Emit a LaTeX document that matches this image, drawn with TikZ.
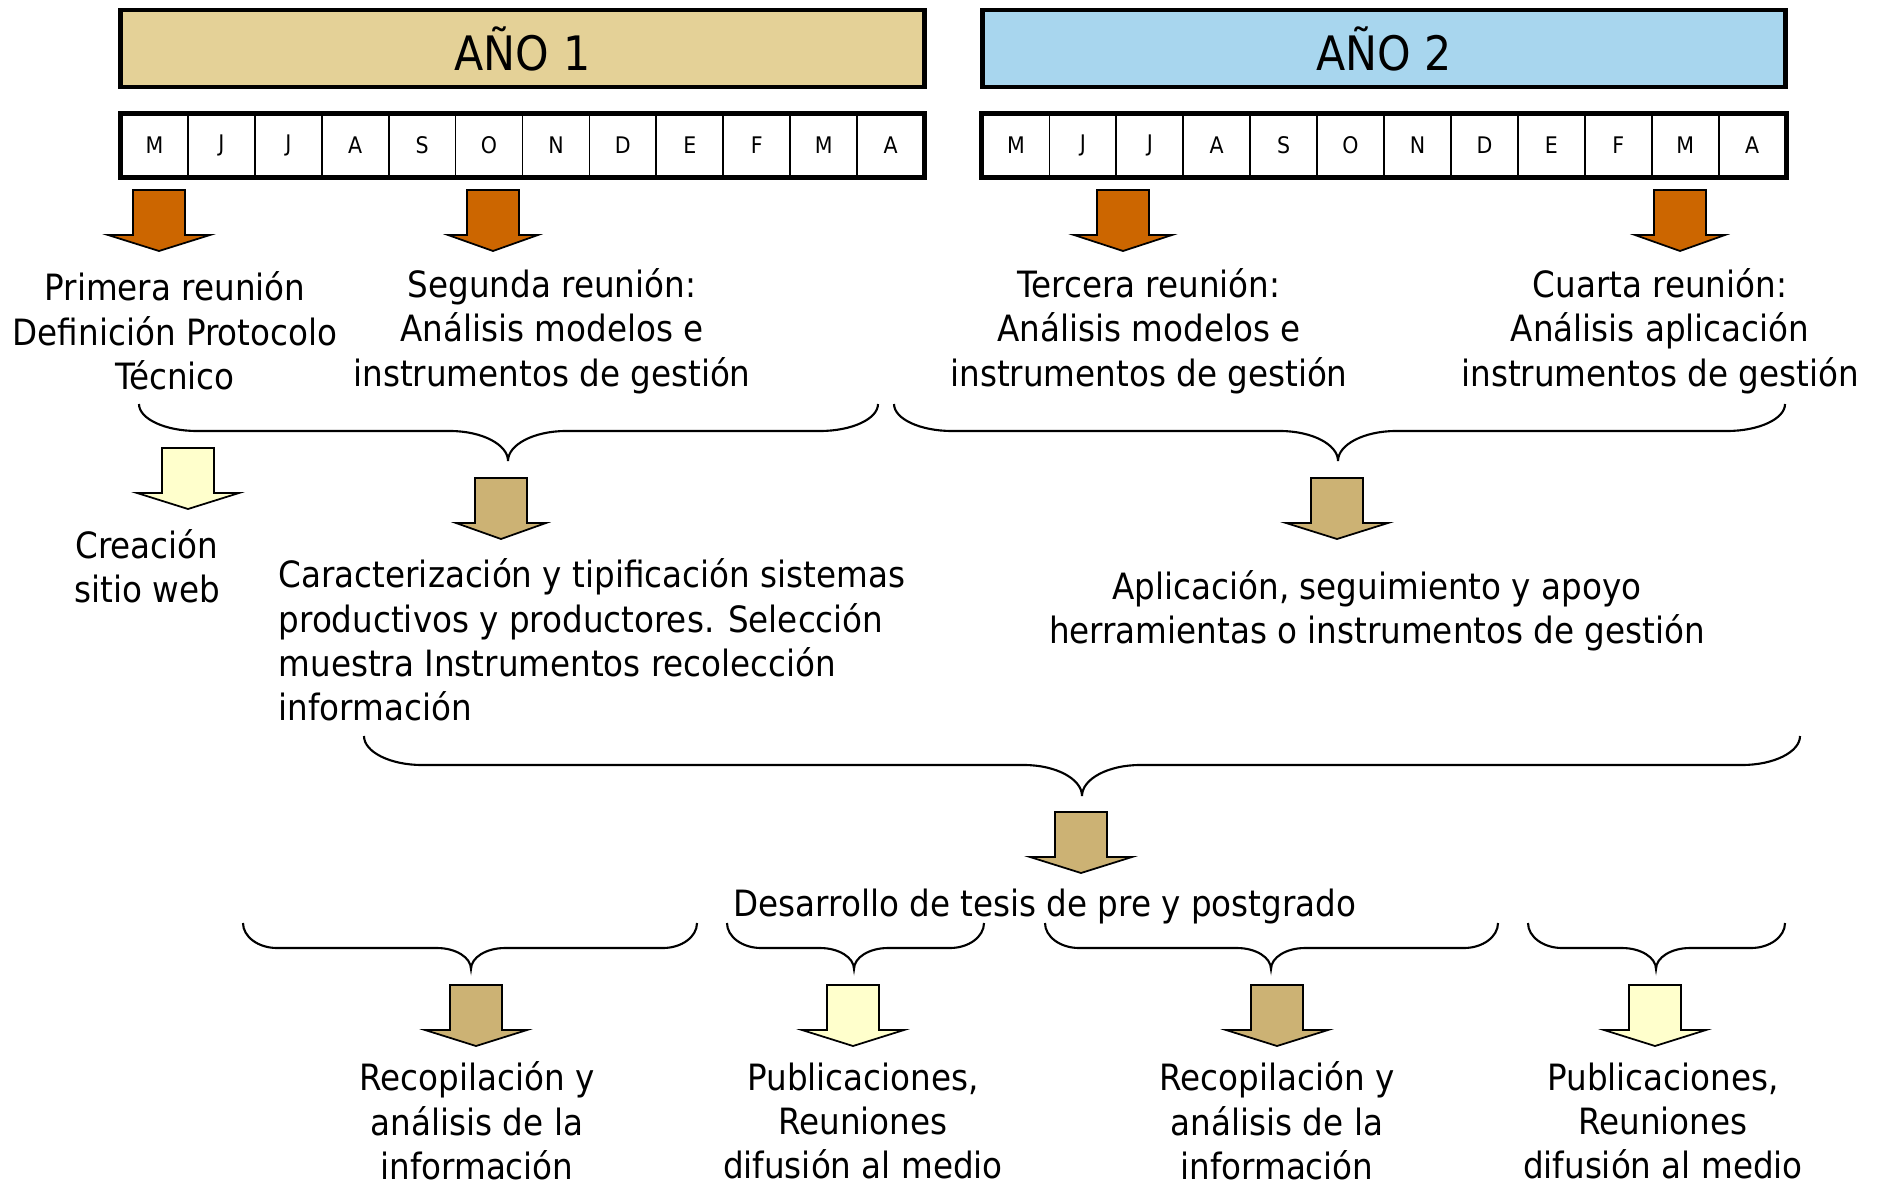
\documentclass[tikz,border=0pt]{standalone}
\usepackage{fontspec}
\setmainfont{DejaVu Sans Condensed}
\definecolor{naranja}{RGB}{204,102,0}
\definecolor{tostado}{RGB}{204,178,116}
\definecolor{crema}{RGB}{255,255,204}
\definecolor{trigo}{RGB}{228,209,151}
\definecolor{celeste}{RGB}{168,214,238}

% flecha de bloque: [media cabeza] x centro, y arriba, color
\newcommand{\flecha}[4][51]{%
  \draw[bloque,fill=#4] ({#2-26},#3) -- ({#2+26},#3) -- ({#2+26},{#3+45}) -- ({#2+#1},{#3+45})
    -- (#2,{#3+61}) -- ({#2-#1},{#3+45}) -- ({#2-26},{#3+45}) -- cycle;}
% llave: x1, x punta, x2, y extremos, y barra, y punta, radio
\newcommand{\llave}[7]{%
  \draw[trazo] (#1,#4) .. controls (#1,{#4+0.55*(#5-#4)}) and ({#1+0.45*#7},#5) .. ({#1+#7},#5)
    -- ({#2-#7},#5) .. controls ({#2-0.45*#7},#5) and (#2,{#6-0.55*(#6-#5)}) .. (#2,#6)
    .. controls (#2,{#6-0.55*(#6-#5)}) and ({#2+0.45*#7},#5) .. ({#2+#7},#5)
    -- ({#3-#7},#5) .. controls ({#3-0.45*#7},#5) and (#3,{#4+0.55*(#5-#4)}) .. (#3,#4);}

\tikzset{
  texto/.style={inner sep=0pt,align=center,font=\fontsize{10.3pt}{12.6pt}\selectfont},
  anio/.style={draw,line width=1.4pt,minimum width=8.03cm,minimum height=0.77cm,inner sep=0pt,
    font=\fontsize{13.5pt}{15pt}\selectfont},
  mes/.style={draw,line width=0.5pt,minimum width=0.669cm,minimum height=0.63cm,inner sep=0pt,
    font=\fontsize{6.5pt}{8pt}\selectfont},
  bloque/.style={draw,line width=0.5pt,line join=miter},
  trazo/.style={draw,line width=0.6pt},
}

\begin{document}
\begin{tikzpicture}[x=0.01cm,y=-0.01cm]
\useasboundingbox (0,0) rectangle (1879,1185);

% encabezados
\node[anio,fill=trigo] (anio1) at (522.5,48.5) {AÑO 1};
\node[anio,fill=celeste] (anio2) at (1384,48.5) {AÑO 2};

% meses
\foreach \m [count=\i] in {M,J,J,A,S,O,N,D,E,F,M,A}{
  \node[mes] (a\i) at ({121+66.92*(\i-0.5)},145.5) {\m};
  \node[mes] (b\i) at ({982.5+66.92*(\i-0.5)},145.5) {\m};
}
\draw[line width=1.4pt] (a1.north west) rectangle (a12.south east);
\draw[line width=1.4pt] (b1.north west) rectangle (b12.south east);

% reuniones
\flecha{159}{190}{naranja}
\flecha[45]{493}{190}{naranja}
\flecha[49]{1123}{190}{naranja}
\flecha[45]{1680}{190}{naranja}

\node[texto] (r1) at (175,331) {Primera reunión\\Definición Protocolo\\Técnico};
\node[texto] (r2) at (552,331) {Segunda reunión:\\Análisis modelos e\\instrumentos de gestión};
\node[texto] (r3) at (1149,331) {Tercera reunión:\\Análisis modelos e\\instrumentos de gestión};
\node[texto] (r4) at (1660,331) {Cuarta reunión:\\Análisis aplicación\\instrumentos de gestión};

\llave{139}{508}{878}{404}{431}{461}{58}
\llave{894}{1338}{1785}{404}{431}{461}{58}

\flecha{188}{448}{crema}
\flecha[45]{501}{478}{tostado}
\flecha{1337}{478}{tostado}

\node[texto] (web) at (147,566) {Creación\\sitio web};
\node[texto,align=left,anchor=west] (carac) at (278,640) {Caracterización y tipificación sistemas\\productivos y productores. Selección\\muestra Instrumentos recolección\\información};
\node[texto] (aplic) at (1377,611) {Aplicación, seguimiento y apoyo\\herramientas o instrumentos de gestión};

\llave{364}{1082}{1800}{736}{765}{796}{58}
\flecha{1081}{812}{tostado}
\node[texto] (tesis) at (1045,906) {Desarrollo de tesis de pre y postgrado};

% productos
\llave{243}{471}{697}{923}{948}{969}{34}
\llave{727}{854}{984}{923}{948}{969}{34}
\llave{1045}{1271}{1498}{923}{948}{969}{34}
\llave{1528}{1656}{1785}{923}{948}{969}{34}

\flecha{476}{985}{tostado}
\flecha{853}{985}{crema}
\flecha{1277}{985}{tostado}
\flecha{1655}{985}{crema}

\node[texto] (rec1) at (477,1121) {Recopilación y\\análisis de la\\información};
\node[texto] (pub1) at (863,1121) {Publicaciones,\\Reuniones\\difusión al medio};
\node[texto] (rec2) at (1277,1121) {Recopilación y\\análisis de la\\información};
\node[texto] (pub2) at (1663,1121) {Publicaciones,\\Reuniones\\difusión al medio};
\end{tikzpicture}
\end{document}
